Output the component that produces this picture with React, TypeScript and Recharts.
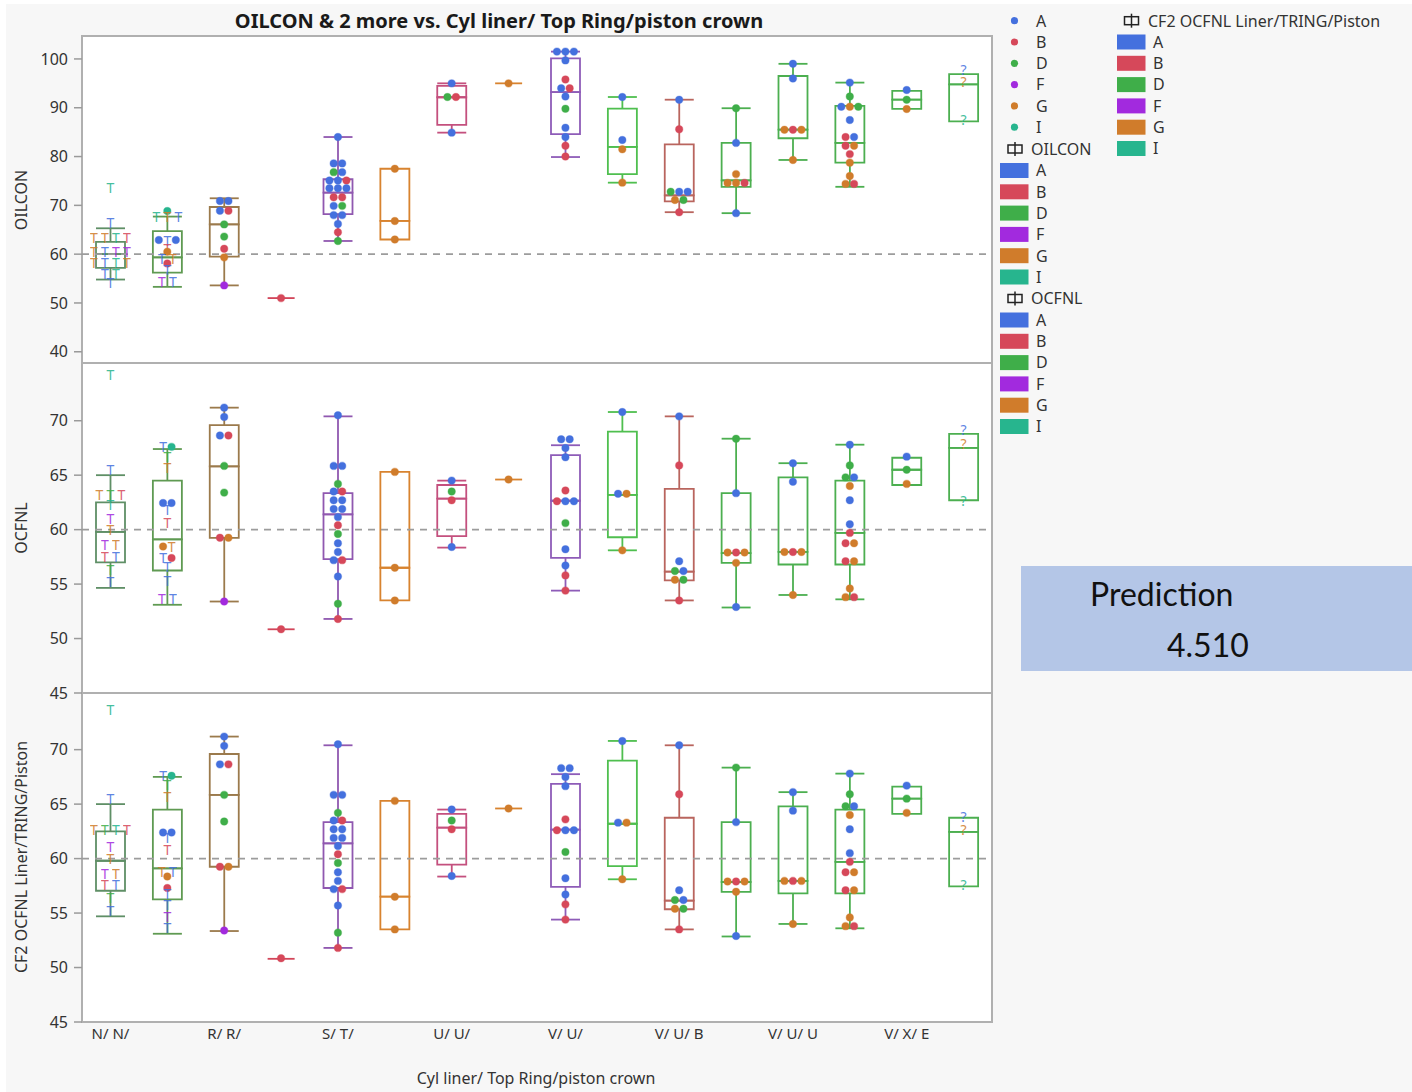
import React from 'react';
import { ComposedChart, Bar, Scatter, XAxis, YAxis, ReferenceLine } from 'recharts';

type Pt = [number, string, number, string];
type Box = [number, number, number, number, number];

const FONT = '"Noto Sans", "DejaVu Sans", sans-serif';

// x categories (only every second one is labelled in the original)
const categories = ['N/ N/', 'N/ S/', 'R/ R/', 'R/ T/', 'S/ T/', 'T/ T/', 'U/ U/', 'U/ V/', 'V/ U/', 'V/ U/ A', 'V/ U/ B', 'V/ U/ E', 'V/ U/ U', 'V/ V/ U', 'V/ X/ E', 'V/ X/ U'];

const groups = ['A', 'B', 'D', 'F', 'G', 'I'];
const groupColors: Record<string, string> = {
  A: '#4470de', B: '#d6485a', D: '#3fae49', F: '#a22ade', G: '#d07c2b', I: '#27b58e',
};
const boxColors = ['#5f8f66', '#5f9a52', '#9b7a4c', '#d2465a', '#9058b0', '#d8832f', '#c4507e', '#d8832f',
  '#8e5cb8', '#4fbf4f', '#b9655e', '#4caf50', '#4caf50', '#4caf50', '#4caf50', '#4caf50'];

// [min, q1, median, q3, max]
const oilconBoxes: Box[] = [
  [54.8, 57.2, 60.0, 62.5, 65.3], [53.3, 56.2, 59.35, 64.7, 67.7], [53.6, 59.5, 66.1, 69.66, 71.45],
  [51.0, 51.0, 51.0, 51.0, 51.0], [62.7, 68.2, 72.6, 75.35, 84.0], [63.0, 63.0, 66.8, 77.5, 77.5],
  [84.9, 86.5, 92.15, 94.5, 95.0], [95.0, 95.0, 95.0, 95.0, 95.0], [79.9, 84.6, 93.2, 100.1, 101.5],
  [74.65, 76.4, 82.0, 89.8, 92.2], [68.6, 70.8, 72.05, 82.5, 91.65], [68.4, 73.8, 75.1, 82.8, 89.9],
  [79.3, 83.75, 85.5, 96.5, 99.0], [73.8, 78.75, 82.8, 90.4, 95.15], [89.75, 89.75, 91.65, 93.45, 93.45],
  [87.2, 87.2, 94.8, 96.9, 96.9],
];
const ocfnlBoxes: Box[] = [
  [54.65, 57.0, 59.8, 62.5, 65.0], [53.1, 56.25, 59.1, 64.5, 67.4], [53.4, 59.25, 65.8, 69.6, 71.2],
  [50.85, 50.85, 50.85, 50.85, 50.85], [51.8, 57.3, 61.4, 63.35, 70.4], [53.5, 53.5, 56.5, 65.3, 65.3],
  [58.35, 59.4, 62.85, 64.1, 64.5], [64.6, 64.6, 64.6, 64.6, 64.6], [54.4, 57.4, 62.65, 66.85, 67.75],
  [58.1, 59.3, 63.2, 69.0, 70.8], [53.5, 55.35, 56.15, 63.75, 70.4], [52.85, 56.95, 57.85, 63.35, 68.35],
  [54.0, 56.8, 57.95, 64.8, 66.1], [53.6, 56.8, 59.7, 64.5, 67.8], [64.1, 64.1, 65.5, 66.6, 66.6],
  [62.7, 62.7, 67.5, 68.8, 68.8],
];
const cf2Boxes: Box[] = [
  [54.7, 57.05, 59.8, 62.5, 65.0], [53.1, 56.25, 59.1, 64.5, 67.5], [53.35, 59.25, 65.85, 69.6, 71.2],
  [50.8, 50.8, 50.8, 50.8, 50.8], [51.8, 57.3, 61.4, 63.35, 70.4], [53.5, 53.5, 56.5, 65.3, 65.3],
  [58.35, 59.45, 62.85, 64.1, 64.5], [64.6, 64.6, 64.6, 64.6, 64.6], [54.4, 57.4, 62.65, 66.85, 67.75],
  [58.1, 59.3, 63.2, 69.0, 70.8], [53.5, 55.35, 56.15, 63.75, 70.4], [52.85, 56.95, 57.85, 63.35, 68.35],
  [54.0, 56.8, 57.95, 64.8, 66.1], [53.6, 56.8, 59.7, 64.5, 67.8], [64.1, 64.1, 65.5, 66.6, 66.6],
  [57.45, 57.45, 62.45, 63.75, 63.75],
];

// [category index, group, value, marker]
const oilconPoints: Pt[] = [
  [0, 'I', 73.6, 'T'], [0, 'A', 66.45, 'T'],
  [0, 'G', 63.45, 'T'], [0, 'G', 63.45, 'T'], [0, 'I', 63.45, 'T'], [0, 'B', 63.45, 'T'],
  [0, 'G', 60.5, 'T'], [0, 'A', 60.5, 'T'], [0, 'F', 60.5, 'T'], [0, 'F', 60.5, 'T'],
  [0, 'G', 58.25, 'T'], [0, 'A', 58.25, 'T'], [0, 'I', 58.25, 'T'], [0, 'G', 58.25, 'T'],
  [0, 'A', 56.1, 'T'], [0, 'I', 56.1, 'T'], [0, 'A', 54.1, 'T'],
  [1, 'I', 68.85, 'o'], [1, 'I', 67.7, 'T'], [1, 'G', 67.7, 'T'], [1, 'A', 67.7, 'T'],
  [1, 'A', 62.9, 'o'], [1, 'A', 62.9, 'T'], [1, 'A', 62.9, 'o'], [1, 'B', 61.2, 'T'], [1, 'G', 60.5, 'o'],
  [1, 'A', 59.15, 'T'], [1, 'G', 59.15, 'T'], [1, 'B', 58.1, 'o'], [1, 'A', 56.9, 'T'],
  [1, 'F', 54.35, 'T'], [1, 'A', 54.35, 'T'],
  [2, 'A', 70.9, 'o'], [2, 'A', 70.9, 'o'], [2, 'A', 68.9, 'o'], [2, 'B', 68.9, 'o'], [2, 'D', 66.1, 'o'],
  [2, 'D', 63.6, 'o'], [2, 'B', 61.1, 'o'], [2, 'G', 59.35, 'o'], [2, 'F', 53.6, 'o'],
  [3, 'B', 51.0, 'o'],
  [4, 'A', 84.0, 'o'], [4, 'A', 78.6, 'o'], [4, 'A', 78.6, 'o'], [4, 'D', 76.8, 'o'], [4, 'A', 76.8, 'o'],
  [4, 'A', 75.1, 'o'], [4, 'A', 75.1, 'o'], [4, 'B', 75.1, 'o'], [4, 'A', 73.5, 'o'], [4, 'A', 73.5, 'o'],
  [4, 'A', 73.5, 'o'], [4, 'B', 71.65, 'o'], [4, 'B', 71.65, 'o'], [4, 'A', 69.9, 'o'], [4, 'D', 69.9, 'o'],
  [4, 'A', 68.0, 'o'], [4, 'A', 68.0, 'o'], [4, 'A', 66.2, 'o'], [4, 'B', 64.5, 'o'], [4, 'D', 62.7, 'o'],
  [5, 'G', 77.5, 'o'], [5, 'G', 66.8, 'o'], [5, 'G', 63.0, 'o'],
  [6, 'A', 95.0, 'o'], [6, 'D', 92.2, 'o'], [6, 'B', 92.2, 'o'], [6, 'A', 84.9, 'o'],
  [7, 'G', 95.0, 'o'],
  [8, 'A', 101.5, 'o'], [8, 'A', 101.5, 'o'], [8, 'A', 101.5, 'o'], [8, 'A', 99.7, 'o'], [8, 'B', 95.8, 'o'],
  [8, 'A', 94.0, 'o'], [8, 'B', 94.0, 'o'], [8, 'A', 92.3, 'o'], [8, 'D', 89.8, 'o'], [8, 'A', 85.9, 'o'],
  [8, 'A', 84.0, 'o'], [8, 'B', 82.2, 'o'], [8, 'B', 80.0, 'o'],
  [9, 'A', 92.2, 'o'], [9, 'A', 83.4, 'o'], [9, 'G', 81.5, 'o'], [9, 'G', 74.65, 'o'],
  [10, 'A', 91.65, 'o'], [10, 'B', 85.6, 'o'], [10, 'D', 72.8, 'o'], [10, 'A', 72.8, 'o'], [10, 'A', 72.8, 'o'],
  [10, 'G', 71.1, 'o'], [10, 'D', 71.1, 'o'], [10, 'B', 68.6, 'o'],
  [11, 'D', 89.9, 'o'], [11, 'A', 82.8, 'o'], [11, 'G', 76.4, 'o'], [11, 'G', 74.6, 'o'], [11, 'G', 74.6, 'o'],
  [11, 'B', 74.6, 'o'], [11, 'A', 68.4, 'o'],
  [12, 'A', 99.0, 'o'], [12, 'A', 96.0, 'o'], [12, 'G', 85.5, 'o'], [12, 'B', 85.5, 'o'], [12, 'G', 85.5, 'o'],
  [12, 'G', 79.3, 'o'],
  [13, 'A', 95.15, 'o'], [13, 'D', 92.3, 'o'], [13, 'A', 90.2, 'o'], [13, 'G', 90.2, 'o'], [13, 'D', 90.2, 'o'],
  [13, 'A', 87.5, 'o'], [13, 'B', 84.0, 'o'], [13, 'A', 84.0, 'o'], [13, 'B', 82.2, 'o'], [13, 'G', 82.2, 'o'],
  [13, 'B', 80.5, 'o'], [13, 'G', 78.75, 'o'], [13, 'G', 76.0, 'o'], [13, 'G', 74.4, 'o'], [13, 'B', 74.4, 'o'],
  [14, 'A', 93.65, 'o'], [14, 'D', 91.65, 'o'], [14, 'G', 89.75, 'o'],
  [15, 'A', 97.8, '?'], [15, 'G', 95.35, '?'], [15, 'I', 87.6, '?'],
];

const ocfnlLeftPoints: Pt[] = [
  [0, 'I', 74.2, 'T'], [0, 'A', 65.55, 'T'], [0, 'G', 63.25, 'T'], [0, 'D', 63.25, 'T'], [0, 'B', 63.25, 'T'],
  [0, 'I', 62.3, 'T'], [0, 'F', 61.0, 'T'], [0, 'G', 60.0, 'T'], [0, 'F', 58.6, 'T'], [0, 'G', 58.6, 'T'],
  [0, 'B', 57.5, 'T'], [0, 'A', 57.5, 'T'], [0, 'D', 56.35, 'T'], [0, 'A', 55.2, 'T'],
  [1, 'A', 67.6, 'T'], [1, 'I', 67.6, 'o'], [1, 'D', 66.7, 'T'], [1, 'G', 65.7, 'T'], [1, 'A', 62.45, 'o'],
  [1, 'A', 62.45, 'o'], [1, 'A', 61.85, 'T'], [1, 'B', 60.7, 'T'], [1, 'G', 58.45, 'o'], [1, 'G', 58.45, 'T'],
  [1, 'A', 57.4, 'T'], [1, 'B', 57.4, 'o'], [1, 'A', 56.6, 'T'], [1, 'A', 55.35, 'T'], [1, 'F', 53.7, 'T'],
  [1, 'A', 53.7, 'T'],
];
const cf2LeftPoints: Pt[] = [
  [0, 'I', 73.7, 'T'], [0, 'A', 65.5, 'T'], [0, 'G', 62.7, 'T'], [0, 'D', 62.7, 'T'], [0, 'I', 62.7, 'T'],
  [0, 'B', 62.7, 'T'], [0, 'F', 61.1, 'T'], [0, 'G', 60.0, 'T'], [0, 'F', 58.6, 'T'], [0, 'G', 58.6, 'T'],
  [0, 'B', 57.6, 'T'], [0, 'A', 57.6, 'T'], [0, 'D', 56.4, 'T'], [0, 'A', 55.2, 'T'],
  [1, 'A', 67.6, 'T'], [1, 'I', 67.6, 'o'], [1, 'D', 66.8, 'T'], [1, 'G', 65.7, 'T'], [1, 'A', 62.4, 'o'],
  [1, 'A', 62.4, 'o'], [1, 'A', 61.9, 'T'], [1, 'B', 60.8, 'T'], [1, 'G', 58.8, 'T'], [1, 'A', 58.8, 'T'],
  [1, 'G', 58.35, 'o'], [1, 'B', 57.3, 'o'], [1, 'A', 56.75, 'T'], [1, 'A', 55.75, 'T'], [1, 'F', 54.7, 'T'],
  [1, 'A', 53.65, 'T'],
];
// categories 2..14 look the same in the OCFNL and CF2 panels
const sharedMidPoints: Pt[] = [
  [2, 'A', 71.2, 'o'], [2, 'A', 70.35, 'o'], [2, 'A', 68.65, 'o'], [2, 'B', 68.65, 'o'], [2, 'D', 65.85, 'o'],
  [2, 'D', 63.4, 'o'], [2, 'B', 59.25, 'o'], [2, 'G', 59.25, 'o'], [2, 'F', 53.4, 'o'],
  [3, 'B', 50.85, 'o'],
  [4, 'A', 70.5, 'o'], [4, 'A', 65.85, 'o'], [4, 'A', 65.85, 'o'], [4, 'D', 64.2, 'o'], [4, 'A', 63.5, 'o'],
  [4, 'B', 63.5, 'o'], [4, 'A', 62.7, 'o'], [4, 'A', 62.7, 'o'], [4, 'A', 61.9, 'o'], [4, 'A', 61.9, 'o'],
  [4, 'A', 61.15, 'o'], [4, 'B', 60.4, 'o'], [4, 'D', 59.6, 'o'], [4, 'A', 58.75, 'o'], [4, 'A', 57.95, 'o'],
  [4, 'A', 57.2, 'o'], [4, 'B', 57.2, 'o'], [4, 'A', 55.7, 'o'], [4, 'D', 53.2, 'o'], [4, 'B', 51.8, 'o'],
  [5, 'G', 65.3, 'o'], [5, 'G', 56.5, 'o'], [5, 'G', 53.5, 'o'],
  [6, 'A', 64.5, 'o'], [6, 'D', 63.5, 'o'], [6, 'B', 62.7, 'o'], [6, 'A', 58.4, 'o'],
  [7, 'G', 64.6, 'o'],
  [8, 'A', 68.3, 'o'], [8, 'A', 68.3, 'o'], [8, 'A', 67.5, 'o'], [8, 'A', 66.65, 'o'], [8, 'B', 63.6, 'o'],
  [8, 'B', 62.6, 'o'], [8, 'A', 62.6, 'o'], [8, 'A', 62.6, 'o'], [8, 'D', 60.6, 'o'], [8, 'A', 58.2, 'o'],
  [8, 'A', 56.7, 'o'], [8, 'B', 55.8, 'o'], [8, 'B', 54.4, 'o'],
  [9, 'A', 70.8, 'o'], [9, 'A', 63.3, 'o'], [9, 'G', 63.3, 'o'], [9, 'G', 58.1, 'o'],
  [10, 'A', 70.4, 'o'], [10, 'B', 65.9, 'o'], [10, 'A', 57.1, 'o'], [10, 'D', 56.2, 'o'], [10, 'A', 56.2, 'o'],
  [10, 'G', 55.4, 'o'], [10, 'D', 55.4, 'o'], [10, 'B', 53.5, 'o'],
  [11, 'D', 68.35, 'o'], [11, 'A', 63.35, 'o'], [11, 'G', 57.9, 'o'], [11, 'B', 57.9, 'o'], [11, 'G', 57.9, 'o'],
  [11, 'G', 56.95, 'o'], [11, 'A', 52.9, 'o'],
  [12, 'A', 66.1, 'o'], [12, 'A', 64.4, 'o'], [12, 'G', 57.95, 'o'], [12, 'B', 57.95, 'o'], [12, 'G', 57.95, 'o'],
  [12, 'G', 54.0, 'o'],
  [13, 'A', 67.8, 'o'], [13, 'D', 65.9, 'o'], [13, 'D', 64.8, 'o'], [13, 'A', 64.8, 'o'], [13, 'G', 64.0, 'o'],
  [13, 'A', 62.7, 'o'], [13, 'A', 60.5, 'o'], [13, 'B', 59.7, 'o'], [13, 'B', 58.75, 'o'], [13, 'G', 58.75, 'o'],
  [13, 'B', 57.1, 'o'], [13, 'G', 57.1, 'o'], [13, 'G', 54.6, 'o'], [13, 'G', 53.8, 'o'], [13, 'B', 53.8, 'o'],
  [14, 'A', 66.7, 'o'], [14, 'D', 65.5, 'o'], [14, 'G', 64.2, 'o'],
];
const ocfnlRightPoints: Pt[] = [[15, 'A', 69.2, '?'], [15, 'G', 67.95, '?'], [15, 'I', 62.7, '?']];
const cf2RightPoints: Pt[] = [[15, 'A', 63.9, '?'], [15, 'G', 62.65, '?'], [15, 'I', 57.6, '?']];

const oilconTicks = [40, 50, 60, 70, 80, 90, 100];
const ocfnlTicks = [45, 50, 55, 60, 65, 70];

function buildRows(boxes: Box[], points: Pt[]) {
  const perCat: any[][] = categories.map(() => []);
  points.forEach(([c, g, v, m]) => perCat[c].push({ g, v, m }));
  let nSlots = 0;
  const rows = categories.map((cat, ci) => {
    const [mn, q1, md, q3, mx] = boxes[ci];
    const row: any = {
      cat, base: mn, lw: q1 - mn, b1: md - q1, b2: q3 - md, uw: mx - q3,
      single: mx - mn < 1e-9, color: boxColors[ci], meta: [],
    };
    const list = perCat[ci];
    nSlots = Math.max(nSlots, list.length);
    list.forEach((p: any, i: number) => {
      const same = list.filter((q: any) => q.v === p.v);
      const k = same.indexOf(p);
      row[`p${i}`] = p.v;
      row.meta[i] = { g: p.g, m: p.m, k: k - (same.length - 1) / 2, mixed: same.some((q: any) => q.m !== p.m) };
    });
    return row;
  });
  return { rows, nSlots };
}

const SW = 1.8;

const BaseShape = (p: any) => {
  const { x, y, width, payload } = p;
  if (!payload || !payload.single) return <g />;
  return <line x1={x + 1} x2={x + width - 1} y1={y} y2={y} stroke={payload.color} strokeWidth={SW} />;
};
const LowerWhisker = (p: any) => {
  const { x, y, width, height, payload } = p;
  if (!payload || !(height > 0.3)) return <g />;
  const cx = x + width / 2;
  return (
    <g stroke={payload.color} strokeWidth={SW}>
      <line x1={cx} x2={cx} y1={y} y2={y + height} />
      <line x1={x} x2={x + width} y1={y + height} y2={y + height} />
    </g>
  );
};
const UpperWhisker = (p: any) => {
  const { x, y, width, height, payload } = p;
  if (!payload || !(height > 0.3)) return <g />;
  const cx = x + width / 2;
  return (
    <g stroke={payload.color} strokeWidth={SW}>
      <line x1={cx} x2={cx} y1={y} y2={y + height} />
      <line x1={x} x2={x + width} y1={y} y2={y} />
    </g>
  );
};
const BoxPart = (p: any) => {
  const { x, y, width, height, payload } = p;
  if (!payload || payload.single || height == null || isNaN(height)) return <g />;
  const h = Math.max(0, height);
  return <path d={`M${x},${y}H${x + width}V${y + h}H${x}Z`} fill="none" stroke={payload.color} strokeWidth={SW} />;
};

function renderMarker(props: any, slot: number) {
  const { cx, cy, payload } = props;
  if (cx == null || cy == null || !payload || payload[`p${slot}`] == null || !payload.meta[slot]) return <g />;
  const meta = payload.meta[slot];
  const col = groupColors[meta.g];
  const spacing = meta.m === 'T' && !meta.mixed ? 11 : 8.5;
  const x = cx + meta.k * spacing;
  if (meta.m === 'o') {
    return <circle cx={x} cy={cy} r={3.7} fill={col} stroke={col} strokeOpacity={0.35} strokeWidth={1.2} />;
  }
  return (
    <text x={x} y={cy} fill={col} fontSize={14} fontFamily={FONT} textAnchor="middle" dominantBaseline="central" opacity={0.85}>
      {meta.m}
    </text>
  );
}

function Panel(props: { boxes: Box[]; points: Pt[]; domain: [number, number]; ticks: number[]; top: number; height: number; showX: boolean }) {
  const { boxes, points, domain, ticks, top, height, showX } = props;
  const { rows, nSlots } = buildRows(boxes, points);
  return (
    <div style={{ position: 'absolute', left: 0, top, width: 1000, height }}>
      <ComposedChart width={1000} height={height} data={rows} margin={{ top: 12, right: 8, bottom: showX ? 0 : 12, left: 30 }}>
        <XAxis dataKey="cat" type="category" hide={!showX} height={30} interval={1} tickLine={false} axisLine={false}
          tickMargin={0} tick={{ fontSize: 15, fill: '#333', fontFamily: FONT }} />
        <YAxis type="number" domain={domain} ticks={ticks} allowDataOverflow width={52} tickSize={8} tickMargin={6}
          axisLine={false} tickLine={{ stroke: '#9a9a9a', strokeWidth: 1.5 }} tick={{ fontSize: 16, fill: '#333', fontFamily: FONT }} />
        <ReferenceLine y={60} stroke="#9c9c9c" strokeWidth={1.6} strokeDasharray="7 6" />
        <Bar dataKey="base" stackId="s" barSize={29} shape={BaseShape} isAnimationActive={false} />
        <Bar dataKey="lw" stackId="s" barSize={29} shape={LowerWhisker} isAnimationActive={false} />
        <Bar dataKey="b1" stackId="s" barSize={29} shape={BoxPart} isAnimationActive={false} />
        <Bar dataKey="b2" stackId="s" barSize={29} shape={BoxPart} isAnimationActive={false} />
        <Bar dataKey="uw" stackId="s" barSize={29} shape={UpperWhisker} isAnimationActive={false} />
        {Array.from({ length: nSlots }, (_, i) => (
          <Scatter key={i} dataKey={`p${i}`} shape={(p: any) => renderMarker(p, i)} isAnimationActive={false} />
        ))}
      </ComposedChart>
    </div>
  );
}

const BoxIcon = ({ x, y }: { x: number; y: number }) => (
  <g stroke="#222" strokeWidth={1.5} fill="none">
    <line x1={x} x2={x} y1={y - 7} y2={y + 7} />
    <rect x={x - 7} y={y - 4} width={14} height={8} />
  </g>
);

export default function App() {
  const rowH = 21.3;
  return (
    <div style={{ position: 'absolute', left: 0, top: 0, width: 1412, height: 1092, background: '#ffffff', overflow: 'hidden' }}>
      <div style={{ position: 'absolute', left: 6, top: 4, width: 1406, height: 1088, background: '#f7f7f7' }} />
      <svg style={{ position: 'absolute', left: 0, top: 0 }} width={1412} height={1092}>
        <rect x={82} y={36} width={910} height={327} fill="#fff" stroke="#b0b0b0" strokeWidth={2} />
        <rect x={82} y={363} width={910} height={330} fill="#fff" stroke="#b0b0b0" strokeWidth={2} />
        <rect x={82} y={693} width={910} height={329} fill="#fff" stroke="#b0b0b0" strokeWidth={2} />
      </svg>
      <Panel boxes={oilconBoxes} points={oilconPoints} domain={[37.7, 104.7]} ticks={oilconTicks} top={24} height={351} showX={false} />
      <Panel boxes={ocfnlBoxes} points={[...ocfnlLeftPoints, ...sharedMidPoints, ...ocfnlRightPoints]} domain={[45, 75.3]} ticks={ocfnlTicks} top={351} height={354} showX={false} />
      <Panel boxes={cf2Boxes} points={[...cf2LeftPoints, ...sharedMidPoints, ...cf2RightPoints]} domain={[45, 75.2]} ticks={ocfnlTicks} top={681} height={371} showX={true} />
      <svg style={{ position: 'absolute', left: 0, top: 0, pointerEvents: 'none' }} width={1412} height={1092} fontFamily={FONT}>
        <text x={499} y={28} textAnchor="middle" fontSize={20} fontWeight="bold" fill="#1a1a1a">
          OILCON &amp; 2 more vs. Cyl liner/ Top Ring/piston crown
        </text>
        <text x={27} y={200} transform="rotate(-90 27 200)" textAnchor="middle" fontSize={16} fill="#333">OILCON</text>
        <text x={27} y={528} transform="rotate(-90 27 528)" textAnchor="middle" fontSize={16} fill="#333">OCFNL</text>
        <text x={27} y={857} transform="rotate(-90 27 857)" textAnchor="middle" fontSize={16} fill="#333">CF2 OCFNL Liner/TRING/Piston</text>
        <text x={536} y={1084} textAnchor="middle" fontSize={16} fill="#333">Cyl liner/ Top Ring/piston crown</text>

        {groups.map((g, i) => (
          <g key={`d${g}`}>
            <circle cx={1014.5} cy={20.7 + i * rowH} r={3.6} fill={groupColors[g]} />
            <text x={1036} y={26.5 + i * rowH} fontSize={16} fill="#333">{g}</text>
          </g>
        ))}
        <BoxIcon x={1015} y={149} />
        <text x={1031} y={154.8} fontSize={16} fill="#333">OILCON</text>
        {groups.map((g, i) => (
          <g key={`o${g}`}>
            <rect x={1000} y={163 + i * rowH} width={28.5} height={15} fill={groupColors[g]} />
            <text x={1036} y={176.3 + i * rowH} fontSize={16} fill="#333">{g}</text>
          </g>
        ))}
        <BoxIcon x={1015} y={298.5} />
        <text x={1031} y={304.3} fontSize={16} fill="#333">OCFNL</text>
        {groups.map((g, i) => (
          <g key={`c${g}`}>
            <rect x={1000} y={312.5 + i * rowH} width={28.5} height={15} fill={groupColors[g]} />
            <text x={1036} y={325.8 + i * rowH} fontSize={16} fill="#333">{g}</text>
          </g>
        ))}
        <BoxIcon x={1131.5} y={20.7} />
        <text x={1148} y={26.5} fontSize={16} fill="#333">CF2 OCFNL Liner/TRING/Piston</text>
        {groups.map((g, i) => (
          <g key={`f${g}`}>
            <rect x={1117} y={34.5 + i * rowH} width={28.5} height={15} fill={groupColors[g]} />
            <text x={1153} y={47.8 + i * rowH} fontSize={16} fill="#333">{g}</text>
          </g>
        ))}

        <rect x={1021} y={566} width={391} height={105} fill="#b4c6e7" />
        <text x={1090} y={605.5} fontSize={32} fontFamily="Lato, 'Open Sans', sans-serif" fill="#111">Prediction</text>
        <text x={1167} y={657} fontSize={32} fontFamily="Lato, 'Open Sans', sans-serif" fill="#111">4.510</text>
      </svg>
    </div>
  );
}
